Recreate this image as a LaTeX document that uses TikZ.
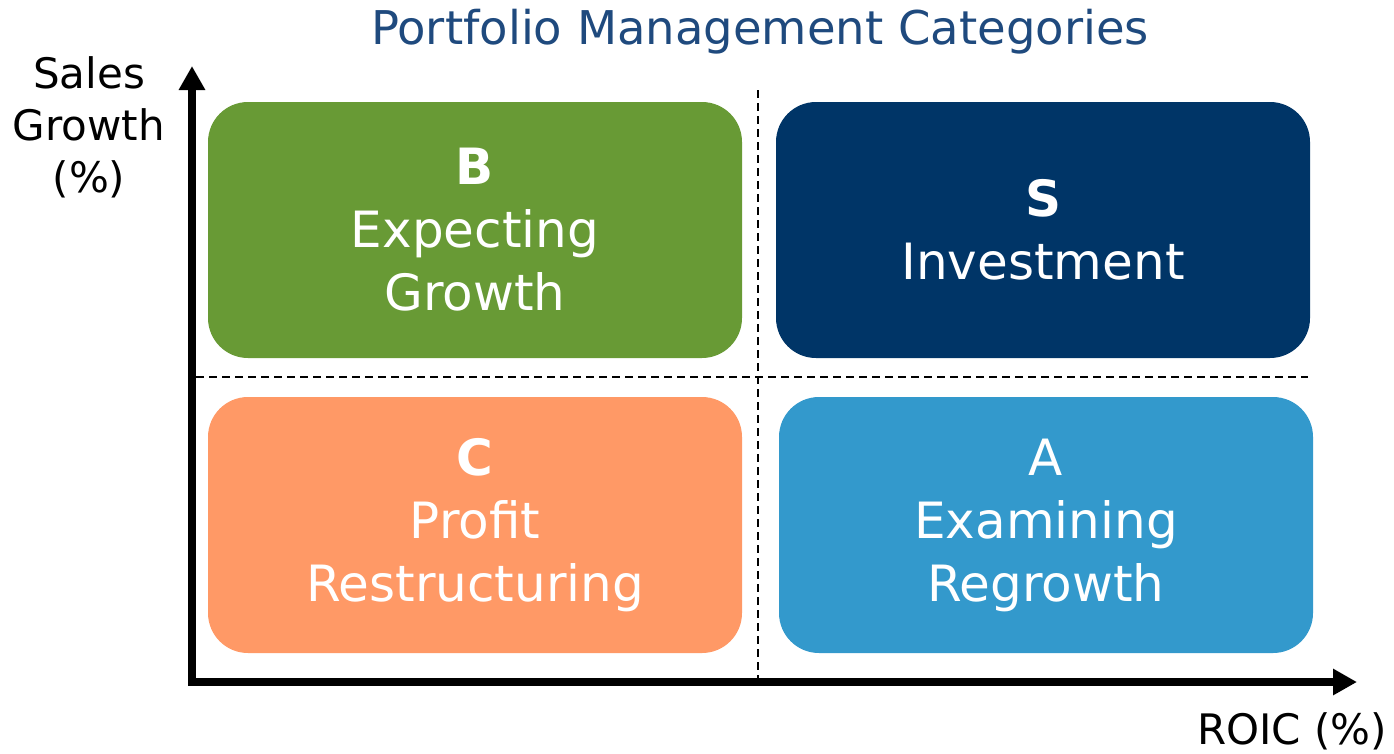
\documentclass[tikz,border=0pt]{standalone}
\usepackage{fontspec}
\setmainfont{DejaVu Sans}
\usetikzlibrary{arrows.meta, positioning}
\definecolor{titleblue}{HTML}{1F4A7E}
\definecolor{quadgreen}{HTML}{689A35}
\definecolor{quadnavy}{HTML}{003567}
\definecolor{quadorange}{HTML}{FF9966}
\definecolor{quadblue}{HTML}{3399CC}

\begin{document}
\begin{tikzpicture}[
    x=1pt, y=-1pt,
    quadrant/.style={fill=#1, rounded corners=40pt, minimum width=534pt,
                     minimum height=256pt, text=white, align=center,
                     font=\fontsize{50}{63}\selectfont},
    axis/.style={line width=8pt, {Triangle[length=24pt,width=25pt]}-{Triangle[length=24pt,width=25pt]}},
    divider/.style={line width=1.6pt, dash pattern=on 8pt off 5pt},
    axislabel/.style={align=center, font=\fontsize{42}{52}\selectfont},
]
    \useasboundingbox (0,0) rectangle (1394,753);

    % Title
    \node[text=titleblue, font=\fontsize{46.5}{52}\selectfont] (title) at (760,32) {Portfolio Management Categories};

    % Axes and quadrant dividers
    \coordinate (ytip) at (192,66);
    \coordinate (origin) at (192,682);
    \coordinate (xtip) at (1357,682);
    \coordinate (hleft) at (196,377);
    \coordinate (hright) at (1308,377);
    \coordinate (vtop) at (758,90);
    \coordinate (vbottom) at (758,682);
    \draw[divider] (hleft) -- (hright);
    \draw[divider] (vtop) -- (vbottom);

    % Row 1: B + S
    \node[quadrant=quadgreen] (b) at (475,230) {\textbf{B}\\Expecting\\Growth};
    \node[quadrant=quadnavy] (s) at (1043,230) {\textbf{S}\\Investment};

    % Row 2: C + A
    \node[quadrant=quadorange] (c) at (475,525) {\textbf{C}\\Profit\\Restructuring};
    \node[quadrant=quadblue] (a) at (1046,525) {A\\Examining\\Regrowth};

    \draw[axis] (ytip) |- (xtip);

    % Axis labels
    \node[axislabel] (ylabel) at (89,127) {Sales\\Growth\\(\%)};
    \node[axislabel] (xlabel) at (1292,731) {ROIC (\%)};
\end{tikzpicture}
\end{document}
